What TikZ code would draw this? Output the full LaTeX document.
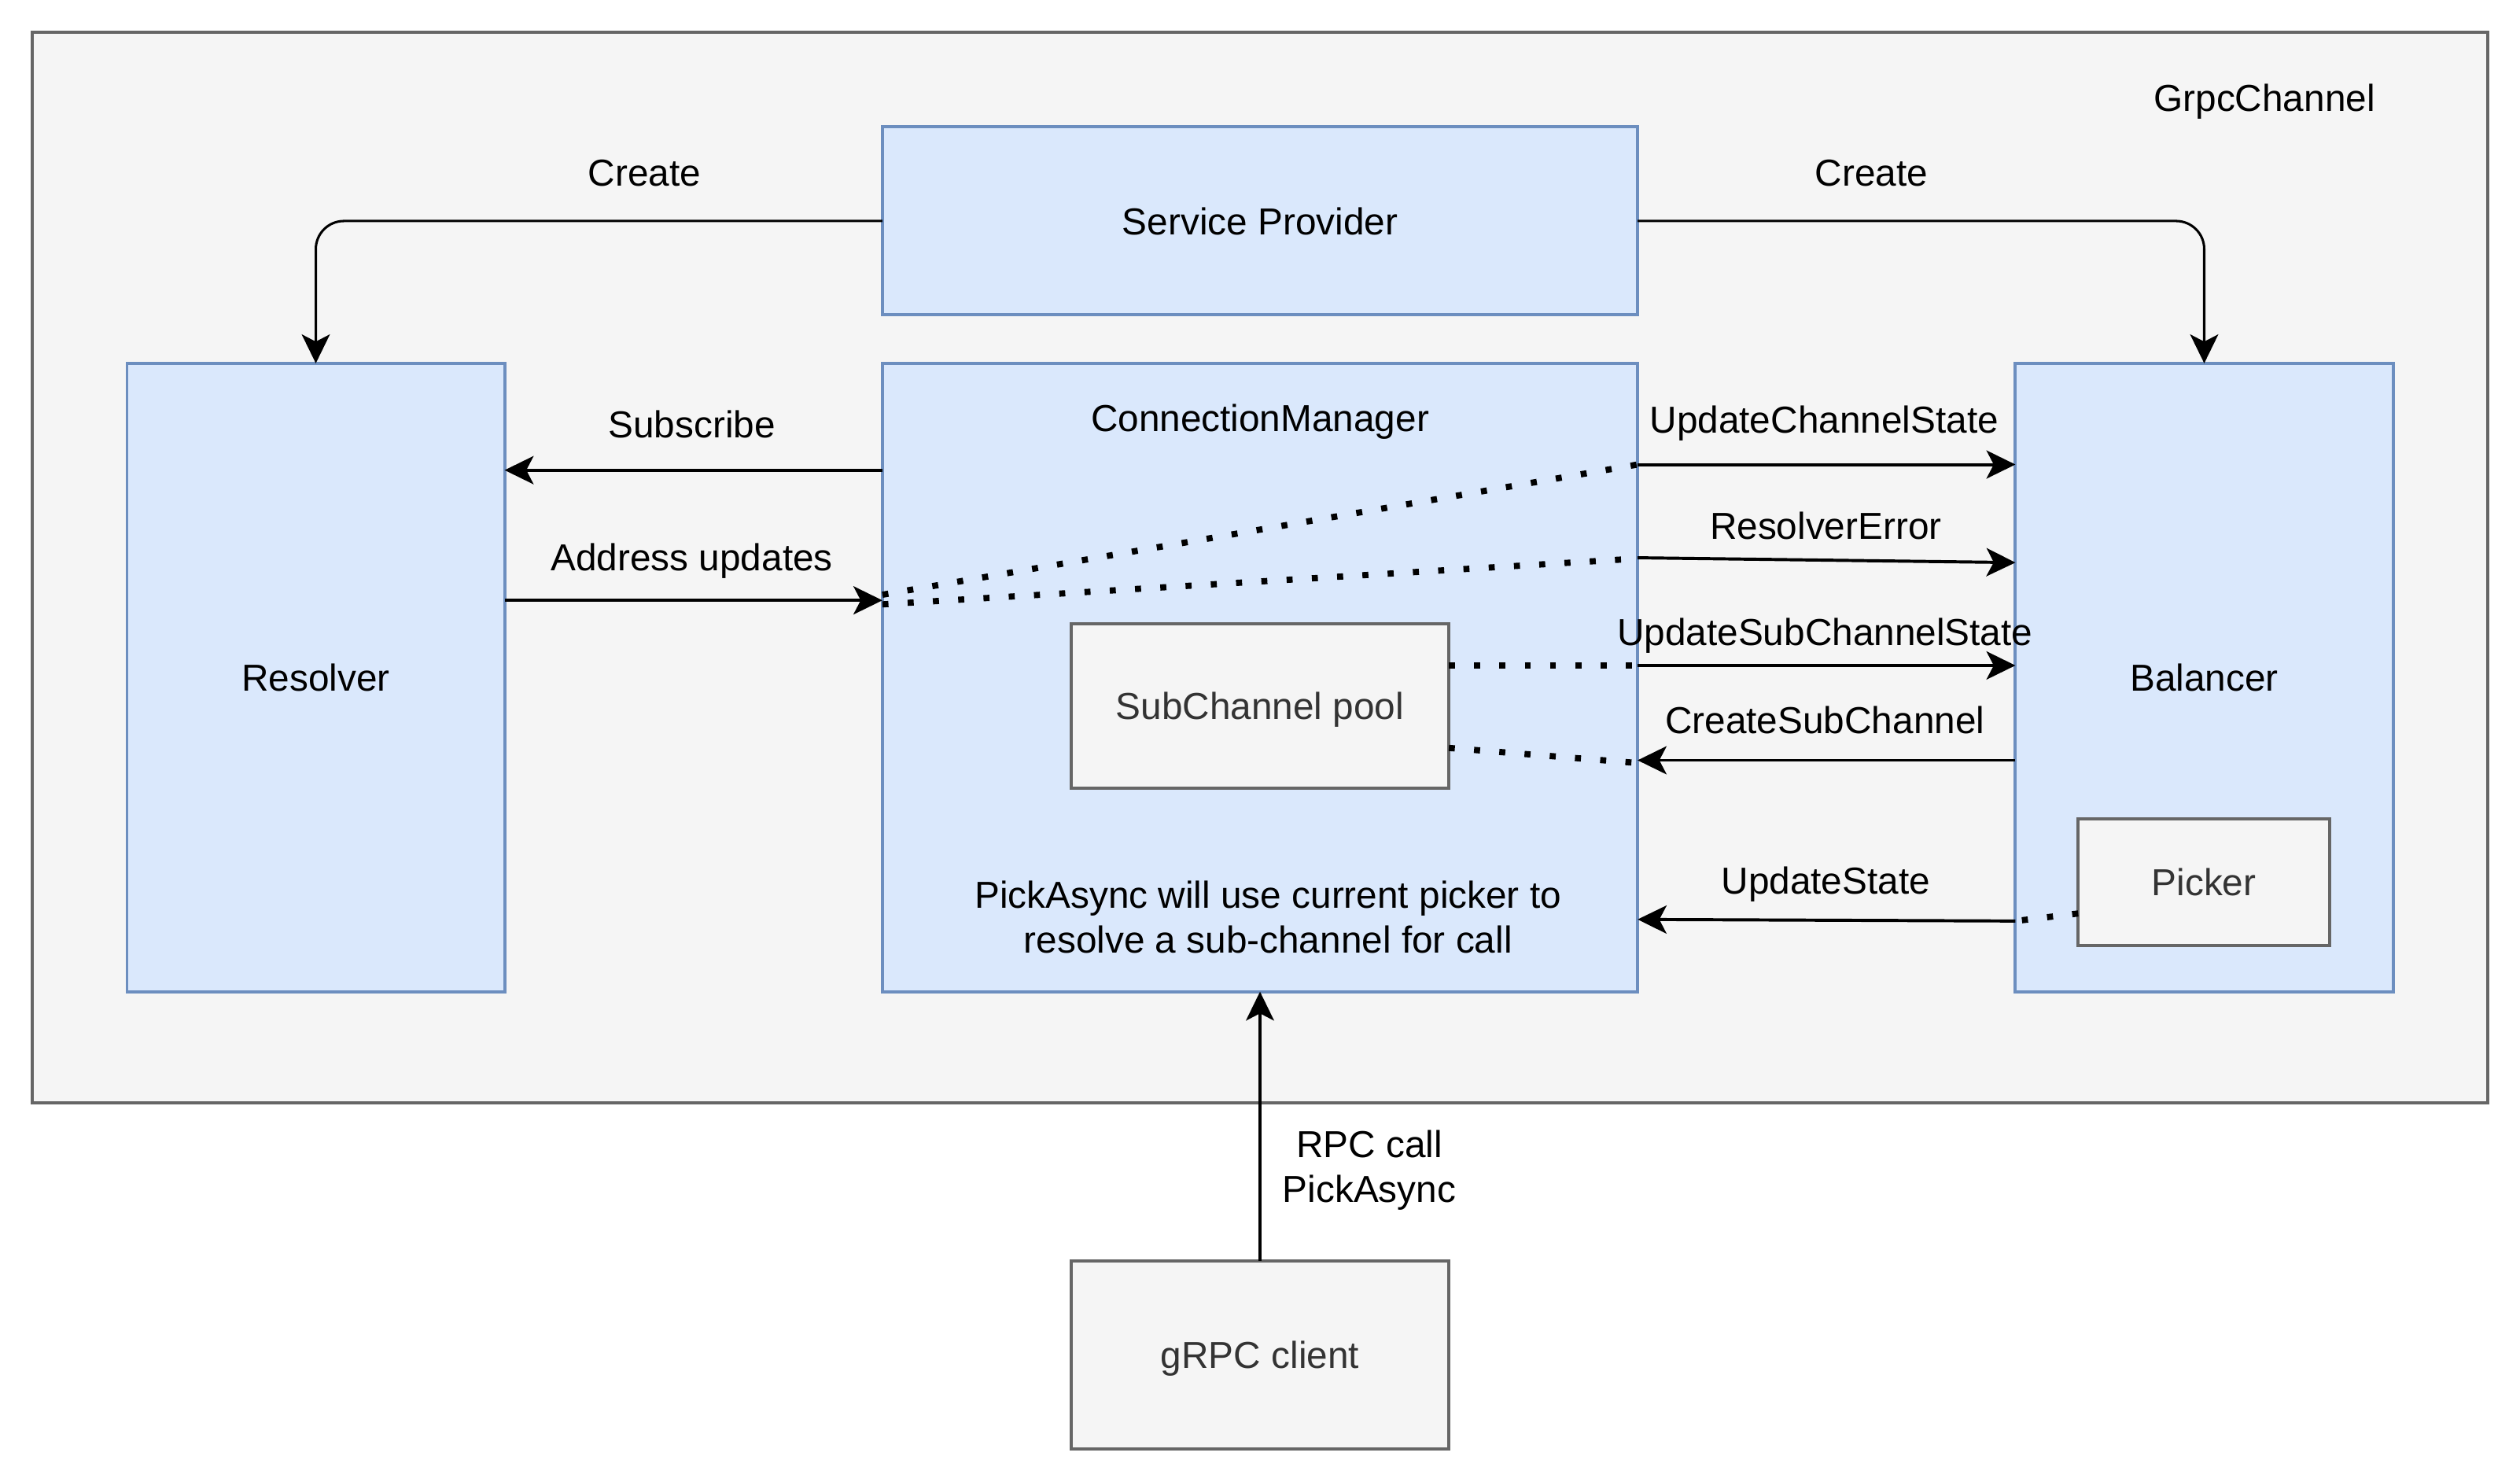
\documentclass[tikz,border=0pt]{standalone}
\usepackage{fontspec}
\setmainfont{Liberation Sans}
\usetikzlibrary{arrows.meta}
\definecolor{boxblue}{HTML}{DAE8FC}
\definecolor{lineblue}{HTML}{6C8EBF}
\definecolor{boxgray}{HTML}{F5F5F5}
\definecolor{linegray}{HTML}{666666}
\definecolor{textgray}{HTML}{333333}
\tikzset{
  bluebox/.style={draw=lineblue, fill=boxblue, line width=1.1pt, outer sep=0pt, inner sep=0pt, text height=9.5pt, text depth=0pt},
  graybox/.style={draw=linegray, fill=boxgray, text=textgray, line width=1.1pt, outer sep=0pt, inner sep=0pt, text height=9.5pt, text depth=0pt},
  lbl/.style={inner sep=0pt, text height=9.5pt, text depth=0pt},
  call/.style={-{Stealth[length=0.36cm,width=0.35cm,inset=0.09cm]}, line width=1.1pt},
  link/.style={line width=2.2pt, dash pattern=on 0.075cm off 0.24cm},
}
\begin{document}
\begin{tikzpicture}[x=0.02cm, y=-0.02cm, font=\fontsize{13.3pt}{15.9pt}\selectfont]
  \useasboundingbox (0,0) rectangle (1568,922);

  % The channel around the whole diagram
  \node [graybox, minimum width=30.56cm, minimum height=13.32cm] (chan) at (784,353) {};
  \node [lbl] (chanlab) at (1409,61) {GrpcChannel};

  % Main parts of the channel
  \node [bluebox, minimum width=9.4cm, minimum height=2.34cm] (sp) at (784,137.5) {Service Provider};
  \node [bluebox, minimum width=4.7cm, minimum height=7.82cm] (res) at (196.5,421.5) {Resolver};
  \node [bluebox, minimum width=9.4cm, minimum height=7.82cm] (cm) at (784,421.5) {};
  \node [bluebox, minimum width=4.7cm, minimum height=7.82cm] (bal) at (1371.5,421.5) {Balancer};
  \node [lbl] (cmlab) at (784,260) {ConnectionManager};
  \node [align=center, inner sep=0pt] (pick) at (789,570.6) {PickAsync will use current picker to\\resolve a sub-channel for call};

  % Inner boxes and the client
  \node [graybox, minimum width=4.7cm, minimum height=2.04cm] (pool) at (784,439.2) {SubChannel pool};
  \node [graybox, minimum width=3.13cm, minimum height=1.57cm] (picker) at (1371.3,548.9) {Picker};
  \node [graybox, minimum width=4.7cm, minimum height=2.34cm] (client) at (784,842.9) {gRPC client};

  % Rows where the connectors run
  \foreach \row/\y in {subs/292.5, addr/373.5, ucs/289, dota/370, dotb/376, dotbe/347.5,
      rerra/347, rerrb/350, uscs/414, dotc/465.3, dotce/474.7, csc/473,
      dotd/568.3, ust/573, ustb/572} {
    \coordinate (\row) at (0,\y);
  }

  % Create arrows from the service provider
  \draw [call, line width=0.85pt, rounded corners=0.35cm] (sp.west) -| (res.north);
  \draw [call, line width=0.85pt, rounded corners=0.35cm] (sp.east) -| (bal.north);

  % Resolver and connection manager
  \draw [call] (cm.west |- subs) -- (res.east |- subs);
  \draw [call] (res.east |- addr) -- (cm.west |- addr);

  % Dotted paths through the boxes
  \draw [link] (cm.west |- dota) -- (cm.east |- ucs);
  \draw [link] (cm.west |- dotb) -- (cm.east |- dotbe);
  \draw [link] (pool.east |- uscs) -- (cm.east |- uscs);
  \draw [link] (pool.east |- dotc) -- (cm.east |- dotce);
  \draw [link] (picker.west |- dotd) -- (bal.west |- ust);

  % Connection manager and balancer
  \draw [call] (cm.east |- ucs) -- (bal.west |- ucs);
  \draw [call] (cm.east |- rerra) -- (bal.west |- rerrb);
  \draw [call] (cm.east |- uscs) -- (bal.west |- uscs);
  \draw [call] (bal.west |- csc) -- (cm.east |- csc);
  \draw [call] (bal.west |- ust) -- (cm.east |- ustb);

  % The call from the client
  \draw [call, line width=0.85pt] (client.north) -- (cm.south);

  % Connector labels
  \foreach \lname/\x/\y/\txt in {
      crl/401/107.5/Create,
      crr/1164.5/107.5/Create,
      subl/430.5/264/Subscribe,
      addl/430.5/346.5/{Address updates},
      ucsl/1135/261/UpdateChannelState,
      rerl/1136/327/ResolverError,
      uscsl/1135.5/393/UpdateSubChannelState,
      cscl/1135.5/448/CreateSubChannel,
      ustl/1136/548/UpdateState} {
    \node [lbl] (\lname) at (\x,\y) {\txt};
  }
  \node [align=center, inner sep=0pt] (rpcl) at (852,728) {RPC call\\PickAsync};
\end{tikzpicture}
\end{document}
